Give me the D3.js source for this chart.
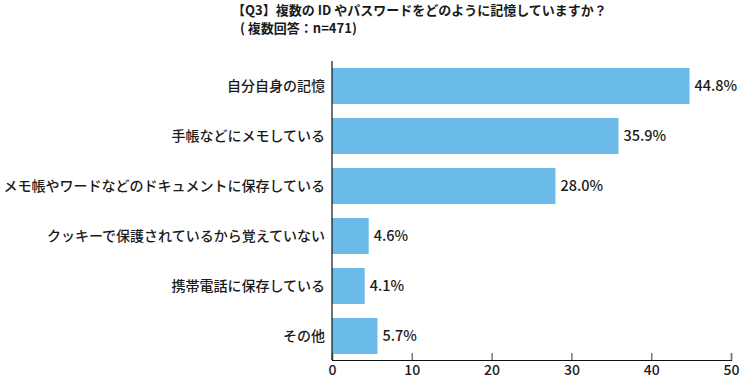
<!DOCTYPE html>
<html>
<head>
<meta charset="utf-8">
<script src="https://cdn.jsdelivr.net/npm/d3@7"></script>
<style>
  body { margin: 0; background: #fff; }
  text { font-family: "Noto Sans CJK JP", "Noto Sans", sans-serif; fill: #1a1a1a; }
</style>
</head>
<body>
<div id="chart"></div>
<script>
// data
var categories = ["自分自身の記憶", "手帳などにメモしている", "メモ帳やワードなどのドキュメントに保存している",
                  "クッキーで保護されているから覚えていない", "携帯電話に保存している", "その他"];
var values = [44.8, 35.9, 28.0, 4.6, 4.1, 5.7];
var ticks = [0, 10, 20, 30, 40, 50];
var titleLines = ["【Q3】複数の ID やパスワードをどのように記憶していますか？", "( 複数回答：n=471)"];

var W = 741, H = 383;
var svg = d3.select("#chart").append("svg")
    .attr("width", W)
    .attr("height", H);

var x = d3.scaleLinear().domain([0, 50]).range([332, 731]);
var y = d3.scaleBand().domain(categories).range([61, 361])
    .paddingInner(0.28).paddingOuter(0.14);
var axisY = 360;

// title
svg.append("text").attr("x", 232).attr("y", 15)
    .style("font-size", "13px").style("font-weight", "bold")
    .text(titleLines[0]);
svg.append("text").attr("x", 240).attr("y", 33)
    .style("font-size", "13px").style("font-weight", "bold")
    .text(titleLines[1]);

// bars
svg.selectAll("rect.bar")
    .data(values)
    .enter().append("rect")
        .attr("class", "bar")
        .attr("x", x(0))
        .attr("y", function(d, i) { return y(categories[i]); })
        .attr("width", function(d) { return x(d) - x(0); })
        .attr("height", y.bandwidth())
        .attr("fill", "#6abbea");

// value labels
svg.selectAll("text.val")
    .data(values)
    .enter().append("text")
        .attr("class", "val")
        .attr("x", function(d) { return x(d) + 5; })
        .attr("y", function(d, i) { return y(categories[i]) + y.bandwidth() / 2; })
        .attr("dy", "0.35em")
        .style("font-size", "14.5px").style("font-weight", 500)
        .text(function(d) { return d.toFixed(1) + "%"; });

// category labels
svg.selectAll("text.cat")
    .data(categories)
    .enter().append("text")
        .attr("class", "cat")
        .attr("x", 325)
        .attr("y", function(d) { return y(d) + y.bandwidth() / 2; })
        .attr("dy", "0.35em")
        .attr("text-anchor", "end")
        .style("font-size", "14px").style("font-weight", 500)
        .text(function(d) { return d; });

// x axis
var xAxis = svg.append("g")
    .attr("transform", "translate(0," + axisY + ")")
    .call(d3.axisBottom(x).tickValues(ticks).tickSize(-7).tickPadding(5));
xAxis.select(".domain").attr("stroke", "#111").attr("stroke-width", 1.2);
xAxis.selectAll(".tick line").attr("stroke", "#777").attr("stroke-width", 1.5);
xAxis.selectAll(".tick text")
    .style("font-family", "\"Noto Sans CJK JP\", \"Noto Sans\", sans-serif")
    .style("font-size", "14px").style("font-weight", 500).attr("fill", "#111");

// y axis line
svg.append("line")
    .attr("x1", x(0)).attr("x2", x(0))
    .attr("y1", 61).attr("y2", axisY)
    .attr("stroke", "#111").attr("stroke-width", 1.2);
</script>
</body>
</html>
